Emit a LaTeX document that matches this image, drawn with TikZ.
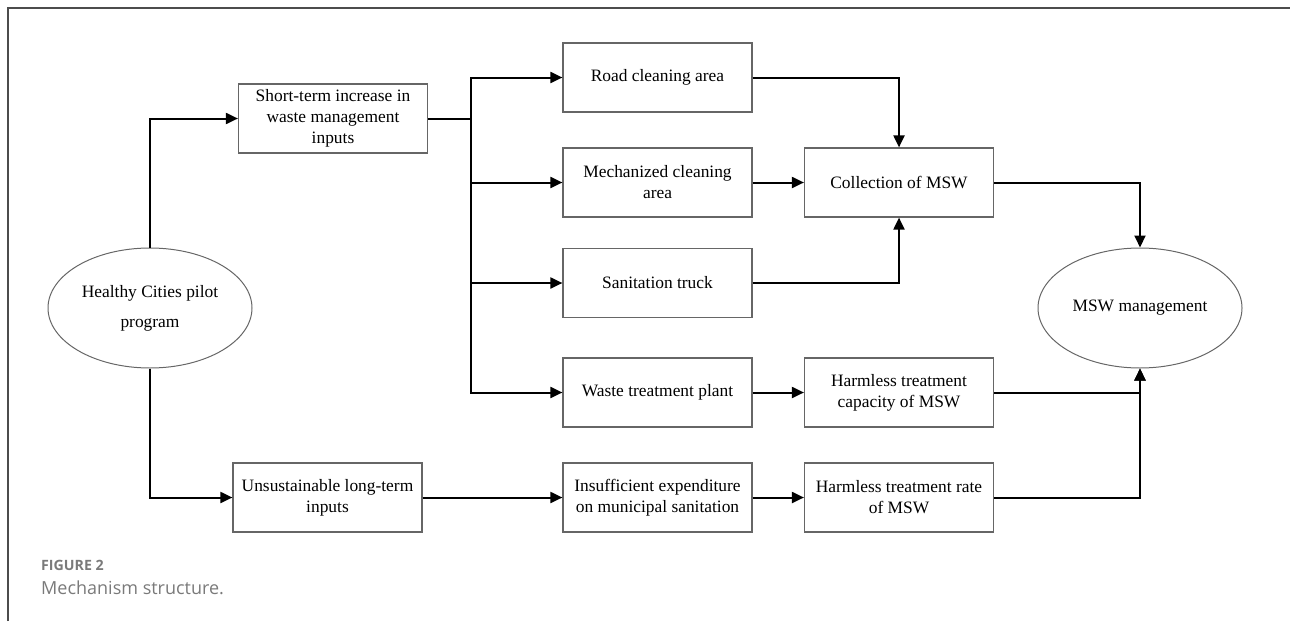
\documentclass[tikz,border=0pt]{standalone}
\usepackage{fontspec}
\setmainfont{Liberation Serif}
\newfontfamily\capfont{Open Sans}
\usetikzlibrary{arrows.meta,shapes.geometric}
\definecolor{capgray}{HTML}{7A7A7A}

\begin{document}
\begin{tikzpicture}[
	x=1pt, y=-1pt,
	t/.style = {rectangle, draw=black!60, line width=1.2pt, minimum width=189pt, minimum height=69pt, inner sep=0pt, align=center, font=\fontsize{17.4}{21}\selectfont},
	o/.style = {ellipse, draw=black!60, line width=1pt, minimum width=204pt, minimum height=120pt, inner sep=0pt, align=center, font=\fontsize{17.4}{30}\selectfont},
	r/.style = {-{Triangle[length=12pt, width=11pt]}, line width=2pt},
	c/.style = {anchor=west, inner sep=0pt, text=capgray}
	]
	\useasboundingbox (0, 0) rectangle (1290, 621);
	
	%Frame
	\draw[black!70, line width=1.2pt]	(8, 621)	--	(8, 8)	--	(1290, 8);
	
	%Nodes
	\node[o]	(hc)	at	(150, 308)		{Healthy Cities pilot\\program};
	\node[t]	(short)	at	(333, 118.5)	{Short-term increase in\\waste management\\inputs};
	\node[t]	(long)	at	(327.5, 497.5)	{Unsustainable long-term\\inputs};
	\node[t]	(road)	at	(657.5, 77.5)	{Road cleaning area};
	\node[t]	(mech)	at	(657.5, 182.5)	{Mechanized cleaning\\area};
	\node[t]	(truck)	at	(657.5, 283)	{Sanitation truck};
	\node[t]	(plant)	at	(657.5, 392.5)	{Waste treatment plant};
	\node[t]	(exp)	at	(657.5, 497.5)	{Insufficient expenditure\\on municipal sanitation};
	\node[t]	(coll)	at	(899, 182.5)	{Collection of MSW};
	\node[t]	(cap)	at	(899, 392.5)	{Harmless treatment\\capacity of MSW};
	\node[t]	(rate)	at	(899, 497.5)	{Harmless treatment rate\\of MSW};
	\node[o]	(msw)	at	(1140, 308)		{MSW management};
	\coordinate	(split)	at	(471, 118.5);
	
	%Caption
	\node[c, font=\capfont\bfseries\fontsize{14.2}{16}\selectfont]	(fig)	at	(41, 565)	{FIGURE 2};
	\node[c, font=\capfont\fontsize{18}{21}\selectfont]				(title)	at	(41, 588)	{Mechanism structure.};
	
	%Lines
	\draw[r]	(hc.north)		|-					(short.west);
	\draw[r]	(hc.south)		|-					(long.west);
	\draw[r]	(short.east)	--	(split)	|-		(road.west);
	\draw[r]	(short.east)	--	(split)	|-		(mech.west);
	\draw[r]	(short.east)	--	(split)	|-		(truck.west);
	\draw[r]	(short.east)	--	(split)	|-		(plant.west);
	\draw[r]	(long.east)		--					(exp.west);
	\draw[r]	(road.east)		-|					(coll.north);
	\draw[r]	(mech.east)		--					(coll.west);
	\draw[r]	(truck.east)	-|					(coll.south);
	\draw[r]	(plant.east)	--					(cap.west);
	\draw[r]	(exp.east)		--					(rate.west);
	\draw[r]	(coll.east)		-|					(msw.north);
	\draw[r]	(cap.east)		-|					(msw.south);
	\draw[r]	(rate.east)		-|					(msw.south);
	
\end{tikzpicture}
\end{document}
